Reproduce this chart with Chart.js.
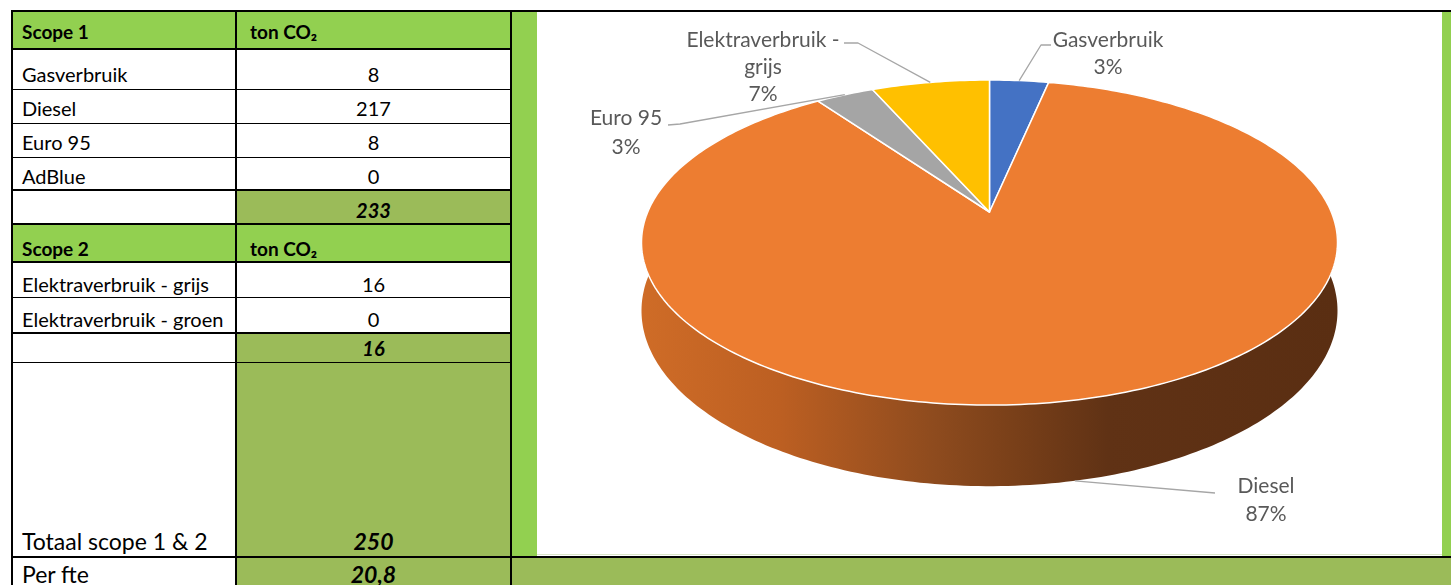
<!DOCTYPE html>
<html>
<head>
<meta charset="utf-8">
<script src="https://cdn.jsdelivr.net/npm/chart.js@4.4.1/dist/chart.umd.min.js"></script>
<style>
  html,body{margin:0;padding:0;background:#fff;}
  body{width:1451px;height:585px;position:relative;overflow:hidden;font-family:Lato,"Open Sans",sans-serif;}
  .cell{position:absolute;box-sizing:border-box;display:flex;align-items:flex-end;color:#000;white-space:nowrap;}
  .l{padding-left:10px;justify-content:flex-start;}
  .c{justify-content:center;}
  .hl{position:absolute;background:#000;}
  #chartBox{position:absolute;left:537px;top:12px;width:905px;height:543px;background:#fff;box-sizing:border-box;border-bottom:1px solid #d9e6c8;}
</style>
</head>
<body>
<div id="table"></div>
<div id="chartBox"><canvas id="c" width="905" height="543"></canvas></div>
<script>
// ---------------- DATA ----------------
const scope1Header = ['Scope 1', 'ton CO\u2082'];
const scope1Labels = ['Gasverbruik', 'Diesel', 'Euro 95', 'AdBlue'];
const scope1Values = ['8', '217', '8', '0'];
const scope1Total = '233';
const scope2Header = ['Scope 2', 'ton CO\u2082'];
const scope2Labels = ['Elektraverbruik - grijs', 'Elektraverbruik - groen'];
const scope2Values = ['16', '0'];
const scope2Total = '16';
const totalLabel = 'Totaal scope 1 & 2';
const totalValue = '250';
const perFteLabel = 'Per fte';
const perFteValue = '20,8';

const pieLabels = ['Gasverbruik', 'Diesel', 'Euro 95', 'Elektraverbruik - grijs'];
const pieValues = [8.2, 216.8, 8.1, 16.4];
const pieLabelLines = [['Gasverbruik'], ['Diesel'], ['Euro 95'], ['Elektraverbruik -', 'grijs']];

// ---------------- STYLE ----------------
const HEAD_GREEN = '#92D050';
const SUB_GREEN = '#9BBB59';
const pieColors = ['#4472C4', '#ED7D31', '#A5A5A5', '#FFC000'];
const sideColors = ['#2F528F', null, '#737373', '#B38600'];

// table geometry
const rowBounds = [[11,49],[49,89],[89,123],[123,157],[157,190],[190,224],[224,262],[262,297],[297,333],[333,362],[362,557],[557,587]];
const rowPad = [8,5,5,5,4,4,4,3,4,4,4,1];
const thickLines = [11,49,190,224,262,333,557];
const thinLines = [89,123,157,297,362];

// build table rows from data
const rows = [];
rows.push({a:scope1Header[0], b:scope1Header[1], type:'head'});
scope1Labels.forEach((l,i)=>rows.push({a:l, b:scope1Values[i], type:'data'}));
rows.push({a:'', b:scope1Total, type:'sub'});
rows.push({a:scope2Header[0], b:scope2Header[1], type:'head'});
scope2Labels.forEach((l,i)=>rows.push({a:l, b:scope2Values[i], type:'data'}));
rows.push({a:'', b:scope2Total, type:'sub'});
rows.push({a:totalLabel, b:totalValue, type:'total'});
rows.push({a:perFteLabel, b:perFteValue, type:'total'});

const T = document.getElementById('table');
function add(html){T.insertAdjacentHTML('beforeend', html);}
// green strips / areas
add(`<div style="position:absolute;left:512px;top:12px;width:25px;height:545px;background:${HEAD_GREEN}"></div>`);
add(`<div style="position:absolute;left:1442px;top:12px;width:9px;height:545px;background:${HEAD_GREEN}"></div>`);
add(`<div style="position:absolute;left:512px;top:557px;width:939px;height:28px;background:${SUB_GREEN}"></div>`);

rows.forEach((r,i)=>{
  const [t,b] = rowBounds[i];
  const h = b - t;
  let bgA = '#fff', bgB = '#fff', fw = 'normal', size = 20;
  if (r.type==='head'){bgA = HEAD_GREEN; bgB = HEAD_GREEN; fw='bold'; size = 19;}
  if (r.type==='sub'){bgB = SUB_GREEN;}
  if (r.type==='total'){bgB = SUB_GREEN; size = 23;}
  const fwB = (r.type==='sub'||r.type==='total') ? 'bold' : fw;
  const fsB = (r.type==='sub'||r.type==='total') ? 'italic' : 'normal';
  const pad = rowPad[i];
  add(`<div class="cell l" style="left:12px;top:${t}px;width:224px;height:${h}px;background:${bgA};font-weight:${fw};font-size:${size}px;line-height:1;padding-bottom:${pad}px">${r.a}</div>`);
  const just = r.type==='head' ? 'l' : 'c';
  add(`<div class="cell ${just}" style="left:236px;top:${t}px;width:275px;height:${h}px;background:${bgB};font-weight:${fwB};font-style:${fsB};font-size:${size}px;line-height:1;padding-bottom:${pad}px;${just==='l'?'padding-left:14px':''}">${r.b}</div>`);
});
thickLines.forEach(y=>{
  const w = (y===11||y===557) ? 1451-11 : 512-11;
  add(`<div class="hl" style="left:11px;top:${y-1}px;width:${w}px;height:2px"></div>`);
});
thinLines.forEach(y=>add(`<div class="hl" style="left:11px;top:${y}px;width:501px;height:1px"></div>`));
[11,235,510].forEach(x=>add(`<div class="hl" style="left:${x}px;top:10px;width:2px;height:580px"></div>`));

// ---------------- PIE (3D perspective rendering of Chart.js arcs) ----------------
const PROJ = {rx: 1.709, ry: 0.784, depth: 0.329, k: 0.188};
// label layout (canvas coords): text center of first line, line gap, leader start/knee
const labelLayout = [
  {x:571, y:28, gap:27, start:[514,33], knee:[504,33], toSide:false},
  {x:729, y:474, gap:28, start:[678,481], knee:null, toSide:true},
  {x:89, y:106, gap:29, start:[131,113], knee:[143,112], toSide:false},
  {x:226, y:28, gap:27, start:[307,31], knee:[321,31], toSide:false}
];

const pie3d = {
  id: 'pie3d',
  beforeDatasetsDraw(chart){
    const ctx = chart.ctx;
    const meta = chart.getDatasetMeta(0);
    const arcs = meta.data;
    const cx = arcs[0].x, cy = arcs[0].y, R = arcs[0].outerRadius;
    const A = R*PROJ.rx, B = R*PROJ.ry, D = R*PROJ.depth, k = PROJ.k;
    const P = (th, bottom) => {
      const u = Math.cos(th), v = Math.sin(th), w = 1 - k*v;
      return [cx + A*u/w, cy + (B*v + (bottom?D:0))/w];
    };
    const N = 360;
    const step = 2*Math.PI/N;
    // sides
    const visS = -0.2, visE = Math.PI + 0.2;
    arcs.forEach((a,i)=>{
      const s = Math.max(a.startAngle, visS), e = Math.min(a.endAngle, visE);
      if (e <= s) return;
      ctx.beginPath();
      const n = Math.max(2, Math.ceil((e-s)/step));
      for (let j=0;j<=n;j++){const p=P(s+(e-s)*j/n,false); j?ctx.lineTo(p[0],p[1]):ctx.moveTo(p[0],p[1]);}
      for (let j=n;j>=0;j--){const p=P(s+(e-s)*j/n,true); ctx.lineTo(p[0],p[1]);}
      ctx.closePath();
      if (sideColors[i]) ctx.fillStyle = sideColors[i];
      else {
        const g = ctx.createLinearGradient(cx - A*1.02, 0, cx + A*1.02, 0);
        g.addColorStop(0, '#CF6C27');
        g.addColorStop(0.2, '#BC5F22');
        g.addColorStop(0.42, '#8E4B1E');
        g.addColorStop(0.53, '#7A4019');
        g.addColorStop(0.67, '#603215');
        g.addColorStop(1, '#5A2E12');
        ctx.fillStyle = g;
      }
      ctx.fill();
    });
    // tops
    arcs.forEach((a,i)=>{
      const s = a.startAngle, e = a.endAngle;
      if (e - s <= 0) return;
      ctx.beginPath();
      ctx.moveTo(cx, cy);
      const n = Math.max(2, Math.ceil((e-s)/step));
      for (let j=0;j<=n;j++){const p=P(s+(e-s)*j/n,false); ctx.lineTo(p[0],p[1]);}
      ctx.closePath();
      ctx.fillStyle = pieColors[i];
      ctx.fill();
      ctx.lineWidth = 1.5;
      ctx.strokeStyle = '#ffffff';
      ctx.lineJoin = 'round';
      ctx.stroke();
    });
    // labels
    const total = pieValues.reduce((s,v)=>s+v,0);
    ctx.font = '21px Lato, "Open Sans", sans-serif';
    ctx.fillStyle = '#595959';
    ctx.textAlign = 'center';
    ctx.textBaseline = 'middle';
    arcs.forEach((a,i)=>{
      const L = labelLayout[i];
      const mid = (a.startAngle + a.endAngle)/2;
      const end = P(mid, L.toSide);
      ctx.beginPath();
      ctx.strokeStyle = '#A6A6A6';
      ctx.lineWidth = 1.3;
      ctx.moveTo(L.start[0], L.start[1]);
      if (L.knee) ctx.lineTo(L.knee[0], L.knee[1]);
      ctx.lineTo(end[0], end[1]);
      ctx.stroke();
      const lines = pieLabelLines[i].concat([Math.round(pieValues[i]/total*100) + '%']);
      lines.forEach((t,j)=>ctx.fillText(t, L.x, L.y + j*L.gap));
    });
    return false;
  }
};

new Chart(document.getElementById('c'), {
  type: 'pie',
  data: {labels: pieLabels, datasets: [{data: pieValues, backgroundColor: pieColors, borderWidth: 0}]},
  options: {
    responsive: false,
    devicePixelRatio: 1,
    animation: false,
    layout: {padding: {top: 0, bottom: 143, left: 0, right: 0}},
    plugins: {legend: {display: false}, tooltip: {enabled: false}}
  },
  plugins: [pie3d]
});
</script>
</body>
</html>
